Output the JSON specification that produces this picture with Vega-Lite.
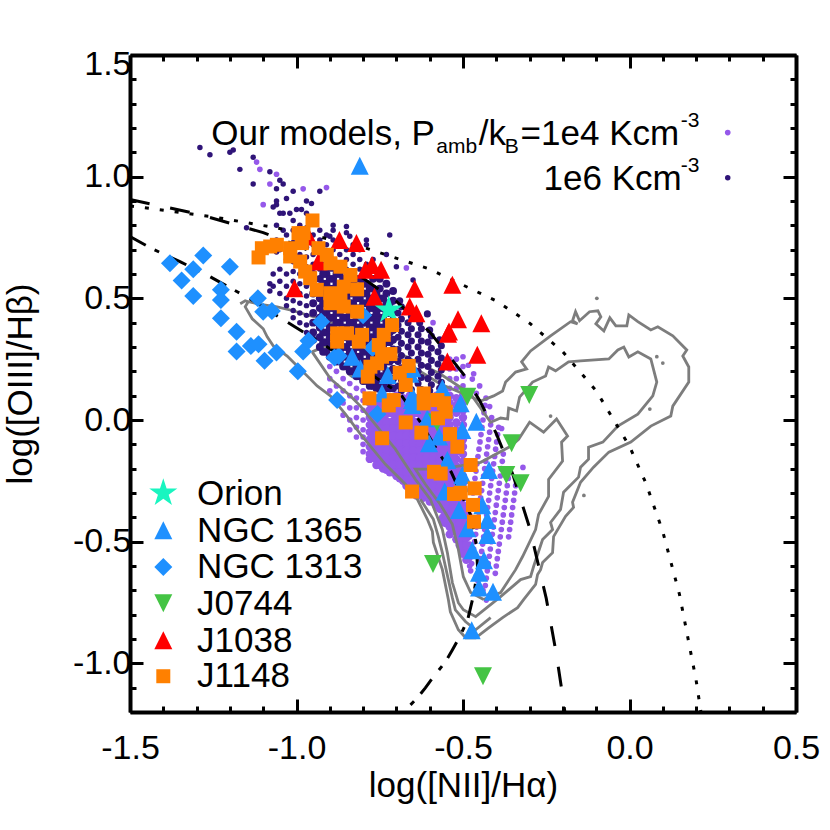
{"$schema":"https://vega.github.io/schema/vega-lite/v6.json","width":666,"height":657,"autosize":{"type":"none"},"padding":{"left":130,"top":55,"right":34,"bottom":118},"background":"white","config":{"view":{"stroke":null},"font":"Liberation Sans"},
"datasets":{
"purple":[
{"x":-1.12,"y":1.06},{"x":-1.11,"y":1.03},{"x":-1.06,"y":1.01},{"x":-1.08,"y":0.97},{"x":-0.98,"y":0.95},{"x":-0.91,"y":0.955},{"x":-1.1,"y":0.885},{"x":-0.67,"y":0.625},{"x":-0.59,"y":0.4},{"x":-0.32,"y":-0.195},{"x":-0.42,"y":0.055},{"x":-0.384,"y":-0.035},{"x":-0.484,"y":0.225},{"x":-0.468,"y":0.19},{"x":-0.472,"y":0.168},{"x":-0.5,"y":0.26},{"x":-0.45,"y":0.14},{"x":-0.46,"y":0.11},
{"x":-0.9,"y":0.22},{"x":-0.9,"y":0.17},{"x":-0.9,"y":0.12},{"x":-0.88,"y":0.2},{"x":-0.88,"y":0.14},{"x":-0.88,"y":0.09},{"x":-0.86,"y":0.17},{"x":-0.86,"y":0.12},{"x":-0.86,"y":0.07},{"x":-0.86,"y":0.02},{"x":-0.84,"y":0.15},{"x":-0.84,"y":0.1},{"x":-0.84,"y":0.05},{"x":-0.84,"y":0.0},{"x":-0.84,"y":-0.04},{"x":-0.82,"y":0.13},{"x":-0.82,"y":0.09},{"x":-0.82,"y":0.05},{"x":-0.82,"y":0.01},{"x":-0.82,"y":-0.03},{"x":-0.82,"y":-0.07},{"x":-0.8,"y":0.12},{"x":-0.8,"y":0.08},{"x":-0.8,"y":0.04},{"x":-0.8,"y":0.0},{"x":-0.8,"y":-0.04},{"x":-0.8,"y":-0.07},{"x":-0.8,"y":-0.1},{"x":-0.8,"y":-0.13},
{"x":-0.78,"y":0.1},{"x":-0.78,"y":0.07},{"x":-0.78,"y":0.04},{"x":-0.78,"y":0.01},{"x":-0.78,"y":-0.02},{"x":-0.78,"y":-0.05},{"x":-0.78,"y":-0.08},{"x":-0.78,"y":-0.11},{"x":-0.78,"y":-0.14},{"x":-0.78,"y":-0.16},
{"x":-0.76,"y":0.09},{"x":-0.76,"y":0.06},{"x":-0.76,"y":0.03},{"x":-0.76,"y":-0.01},{"x":-0.76,"y":-0.04},{"x":-0.76,"y":-0.07},{"x":-0.76,"y":-0.1},{"x":-0.76,"y":-0.13},{"x":-0.76,"y":-0.16},{"x":-0.76,"y":-0.185},
{"x":-0.74,"y":0.1},{"x":-0.74,"y":0.07},{"x":-0.74,"y":0.04},{"x":-0.74,"y":0.01},{"x":-0.74,"y":-0.02},{"x":-0.74,"y":-0.05},{"x":-0.74,"y":-0.08},{"x":-0.74,"y":-0.11},{"x":-0.74,"y":-0.14},{"x":-0.74,"y":-0.17},{"x":-0.74,"y":-0.2},
{"x":-0.72,"y":0.09},{"x":-0.72,"y":0.06},{"x":-0.72,"y":0.03},{"x":-0.72,"y":-0.01},{"x":-0.72,"y":-0.04},{"x":-0.72,"y":-0.07},{"x":-0.72,"y":-0.1},{"x":-0.72,"y":-0.13},{"x":-0.72,"y":-0.16},{"x":-0.72,"y":-0.19},{"x":-0.72,"y":-0.215},
{"x":-0.7,"y":0.1},{"x":-0.7,"y":0.07},{"x":-0.7,"y":0.04},{"x":-0.7,"y":0.01},{"x":-0.7,"y":-0.02},{"x":-0.7,"y":-0.05},{"x":-0.7,"y":-0.08},{"x":-0.7,"y":-0.11},{"x":-0.7,"y":-0.14},{"x":-0.7,"y":-0.17},{"x":-0.7,"y":-0.2},{"x":-0.7,"y":-0.23},
{"x":-0.68,"y":0.09},{"x":-0.68,"y":0.06},{"x":-0.68,"y":0.03},{"x":-0.68,"y":-0.01},{"x":-0.68,"y":-0.04},{"x":-0.68,"y":-0.07},{"x":-0.68,"y":-0.1},{"x":-0.68,"y":-0.13},{"x":-0.68,"y":-0.16},{"x":-0.68,"y":-0.19},{"x":-0.68,"y":-0.22},{"x":-0.68,"y":-0.25},
{"x":-0.66,"y":0.1},{"x":-0.66,"y":0.07},{"x":-0.66,"y":0.04},{"x":-0.66,"y":0.01},{"x":-0.66,"y":-0.02},{"x":-0.66,"y":-0.05},{"x":-0.66,"y":-0.08},{"x":-0.66,"y":-0.11},{"x":-0.66,"y":-0.14},{"x":-0.66,"y":-0.17},{"x":-0.66,"y":-0.2},{"x":-0.66,"y":-0.23},{"x":-0.66,"y":-0.26},{"x":-0.66,"y":-0.285},
{"x":-0.64,"y":0.09},{"x":-0.64,"y":0.06},{"x":-0.64,"y":0.03},{"x":-0.64,"y":-0.01},{"x":-0.64,"y":-0.04},{"x":-0.64,"y":-0.07},{"x":-0.64,"y":-0.1},{"x":-0.64,"y":-0.13},{"x":-0.64,"y":-0.16},{"x":-0.64,"y":-0.19},{"x":-0.64,"y":-0.22},{"x":-0.64,"y":-0.25},{"x":-0.64,"y":-0.28},{"x":-0.64,"y":-0.31},
{"x":-0.62,"y":0.1},{"x":-0.62,"y":0.07},{"x":-0.62,"y":0.04},{"x":-0.62,"y":0.01},{"x":-0.62,"y":-0.02},{"x":-0.62,"y":-0.05},{"x":-0.62,"y":-0.08},{"x":-0.62,"y":-0.11},{"x":-0.62,"y":-0.14},{"x":-0.62,"y":-0.17},{"x":-0.62,"y":-0.2},{"x":-0.62,"y":-0.23},{"x":-0.62,"y":-0.26},{"x":-0.62,"y":-0.29},{"x":-0.62,"y":-0.32},
{"x":-0.6,"y":0.09},{"x":-0.6,"y":0.06},{"x":-0.6,"y":0.03},{"x":-0.6,"y":-0.01},{"x":-0.6,"y":-0.04},{"x":-0.6,"y":-0.07},{"x":-0.6,"y":-0.1},{"x":-0.6,"y":-0.13},{"x":-0.6,"y":-0.16},{"x":-0.6,"y":-0.19},{"x":-0.6,"y":-0.22},{"x":-0.6,"y":-0.25},{"x":-0.6,"y":-0.28},{"x":-0.6,"y":-0.31},{"x":-0.6,"y":-0.335},
{"x":-0.58,"y":0.1},{"x":-0.58,"y":0.07},{"x":-0.58,"y":0.04},{"x":-0.58,"y":0.01},{"x":-0.58,"y":-0.02},{"x":-0.58,"y":-0.05},{"x":-0.58,"y":-0.08},{"x":-0.58,"y":-0.11},{"x":-0.58,"y":-0.14},{"x":-0.58,"y":-0.17},{"x":-0.58,"y":-0.2},{"x":-0.58,"y":-0.23},{"x":-0.58,"y":-0.26},{"x":-0.58,"y":-0.29},{"x":-0.58,"y":-0.32},{"x":-0.58,"y":-0.35},
{"x":-0.56,"y":0.09},{"x":-0.56,"y":0.06},{"x":-0.56,"y":0.03},{"x":-0.56,"y":-0.01},{"x":-0.56,"y":-0.04},{"x":-0.56,"y":-0.07},{"x":-0.56,"y":-0.1},{"x":-0.56,"y":-0.13},{"x":-0.56,"y":-0.16},{"x":-0.56,"y":-0.19},{"x":-0.56,"y":-0.22},{"x":-0.56,"y":-0.25},{"x":-0.56,"y":-0.28},{"x":-0.56,"y":-0.31},{"x":-0.56,"y":-0.34},{"x":-0.56,"y":-0.37},{"x":-0.56,"y":-0.4},{"x":-0.56,"y":-0.42},
{"x":-0.54,"y":0.25},{"x":-0.54,"y":0.21},{"x":-0.54,"y":0.17},{"x":-0.54,"y":0.13},{"x":-0.54,"y":0.1},{"x":-0.54,"y":0.07},{"x":-0.54,"y":0.04},{"x":-0.54,"y":0.01},{"x":-0.54,"y":-0.02},{"x":-0.54,"y":-0.05},{"x":-0.54,"y":-0.08},{"x":-0.54,"y":-0.11},{"x":-0.54,"y":-0.14},{"x":-0.54,"y":-0.17},{"x":-0.54,"y":-0.2},{"x":-0.54,"y":-0.23},{"x":-0.54,"y":-0.26},{"x":-0.54,"y":-0.29},{"x":-0.54,"y":-0.32},{"x":-0.54,"y":-0.35},{"x":-0.54,"y":-0.38},{"x":-0.54,"y":-0.41},{"x":-0.54,"y":-0.44},{"x":-0.54,"y":-0.47},
{"x":-0.52,"y":0.25},{"x":-0.52,"y":0.21},{"x":-0.52,"y":0.17},{"x":-0.52,"y":0.13},{"x":-0.52,"y":0.09},{"x":-0.52,"y":0.06},{"x":-0.52,"y":0.03},{"x":-0.52,"y":-0.01},{"x":-0.52,"y":-0.04},{"x":-0.52,"y":-0.07},{"x":-0.52,"y":-0.1},{"x":-0.52,"y":-0.13},{"x":-0.52,"y":-0.16},{"x":-0.52,"y":-0.19},{"x":-0.52,"y":-0.22},{"x":-0.52,"y":-0.25},{"x":-0.52,"y":-0.28},{"x":-0.52,"y":-0.31},{"x":-0.52,"y":-0.34},{"x":-0.52,"y":-0.37},{"x":-0.52,"y":-0.4},{"x":-0.52,"y":-0.43},{"x":-0.52,"y":-0.46},{"x":-0.52,"y":-0.49},
{"x":-0.5,"y":0.22},{"x":-0.5,"y":0.18},{"x":-0.5,"y":0.14},{"x":-0.5,"y":0.1},{"x":-0.5,"y":0.07},{"x":-0.5,"y":0.04},{"x":-0.5,"y":0.01},{"x":-0.5,"y":-0.02},{"x":-0.5,"y":-0.05},{"x":-0.5,"y":-0.08},{"x":-0.5,"y":-0.11},{"x":-0.5,"y":-0.14},{"x":-0.5,"y":-0.17},{"x":-0.5,"y":-0.2},{"x":-0.5,"y":-0.23},{"x":-0.5,"y":-0.26},{"x":-0.5,"y":-0.29},{"x":-0.5,"y":-0.32},{"x":-0.5,"y":-0.35},{"x":-0.5,"y":-0.38},{"x":-0.5,"y":-0.41},{"x":-0.5,"y":-0.44},{"x":-0.5,"y":-0.47},{"x":-0.5,"y":-0.5},{"x":-0.5,"y":-0.53},{"x":-0.5,"y":-0.55},
{"x":-0.77,"y":0.085},{"x":-0.77,"y":0.055},{"x":-0.77,"y":0.025},{"x":-0.77,"y":-0.005},{"x":-0.77,"y":-0.035},{"x":-0.77,"y":-0.065},{"x":-0.77,"y":-0.095},{"x":-0.77,"y":-0.125},{"x":-0.77,"y":-0.155},
{"x":-0.75,"y":0.085},{"x":-0.75,"y":0.055},{"x":-0.75,"y":0.025},{"x":-0.75,"y":-0.005},{"x":-0.75,"y":-0.035},{"x":-0.75,"y":-0.065},{"x":-0.75,"y":-0.095},{"x":-0.75,"y":-0.125},{"x":-0.75,"y":-0.155},{"x":-0.75,"y":-0.185},
{"x":-0.73,"y":0.085},{"x":-0.73,"y":0.055},{"x":-0.73,"y":0.025},{"x":-0.73,"y":-0.005},{"x":-0.73,"y":-0.035},{"x":-0.73,"y":-0.065},{"x":-0.73,"y":-0.095},{"x":-0.73,"y":-0.125},{"x":-0.73,"y":-0.155},{"x":-0.73,"y":-0.185},{"x":-0.73,"y":-0.205},
{"x":-0.71,"y":0.085},{"x":-0.71,"y":0.055},{"x":-0.71,"y":0.025},{"x":-0.71,"y":-0.005},{"x":-0.71,"y":-0.035},{"x":-0.71,"y":-0.065},{"x":-0.71,"y":-0.095},{"x":-0.71,"y":-0.125},{"x":-0.71,"y":-0.155},{"x":-0.71,"y":-0.185},{"x":-0.71,"y":-0.215},
{"x":-0.69,"y":0.085},{"x":-0.69,"y":0.055},{"x":-0.69,"y":0.025},{"x":-0.69,"y":-0.005},{"x":-0.69,"y":-0.035},{"x":-0.69,"y":-0.065},{"x":-0.69,"y":-0.095},{"x":-0.69,"y":-0.125},{"x":-0.69,"y":-0.155},{"x":-0.69,"y":-0.185},{"x":-0.69,"y":-0.215},{"x":-0.69,"y":-0.24},
{"x":-0.67,"y":0.085},{"x":-0.67,"y":0.055},{"x":-0.67,"y":0.025},{"x":-0.67,"y":-0.005},{"x":-0.67,"y":-0.035},{"x":-0.67,"y":-0.065},{"x":-0.67,"y":-0.095},{"x":-0.67,"y":-0.125},{"x":-0.67,"y":-0.155},{"x":-0.67,"y":-0.185},{"x":-0.67,"y":-0.215},{"x":-0.67,"y":-0.245},{"x":-0.67,"y":-0.27},
{"x":-0.65,"y":0.085},{"x":-0.65,"y":0.055},{"x":-0.65,"y":0.025},{"x":-0.65,"y":-0.005},{"x":-0.65,"y":-0.035},{"x":-0.65,"y":-0.065},{"x":-0.65,"y":-0.095},{"x":-0.65,"y":-0.125},{"x":-0.65,"y":-0.155},{"x":-0.65,"y":-0.185},{"x":-0.65,"y":-0.215},{"x":-0.65,"y":-0.245},{"x":-0.65,"y":-0.275},
{"x":-0.63,"y":0.085},{"x":-0.63,"y":0.055},{"x":-0.63,"y":0.025},{"x":-0.63,"y":-0.005},{"x":-0.63,"y":-0.035},{"x":-0.63,"y":-0.065},{"x":-0.63,"y":-0.095},{"x":-0.63,"y":-0.125},{"x":-0.63,"y":-0.155},{"x":-0.63,"y":-0.185},{"x":-0.63,"y":-0.215},{"x":-0.63,"y":-0.245},{"x":-0.63,"y":-0.275},{"x":-0.63,"y":-0.305},
{"x":-0.61,"y":0.085},{"x":-0.61,"y":0.055},{"x":-0.61,"y":0.025},{"x":-0.61,"y":-0.005},{"x":-0.61,"y":-0.035},{"x":-0.61,"y":-0.065},{"x":-0.61,"y":-0.095},{"x":-0.61,"y":-0.125},{"x":-0.61,"y":-0.155},{"x":-0.61,"y":-0.185},{"x":-0.61,"y":-0.215},{"x":-0.61,"y":-0.245},{"x":-0.61,"y":-0.275},{"x":-0.61,"y":-0.305},
{"x":-0.59,"y":0.085},{"x":-0.59,"y":0.055},{"x":-0.59,"y":0.025},{"x":-0.59,"y":-0.005},{"x":-0.59,"y":-0.035},{"x":-0.59,"y":-0.065},{"x":-0.59,"y":-0.095},{"x":-0.59,"y":-0.125},{"x":-0.59,"y":-0.155},{"x":-0.59,"y":-0.185},{"x":-0.59,"y":-0.215},{"x":-0.59,"y":-0.245},{"x":-0.59,"y":-0.275},{"x":-0.59,"y":-0.305},{"x":-0.59,"y":-0.335},
{"x":-0.57,"y":0.085},{"x":-0.57,"y":0.055},{"x":-0.57,"y":0.025},{"x":-0.57,"y":-0.005},{"x":-0.57,"y":-0.035},{"x":-0.57,"y":-0.065},{"x":-0.57,"y":-0.095},{"x":-0.57,"y":-0.125},{"x":-0.57,"y":-0.155},{"x":-0.57,"y":-0.185},{"x":-0.57,"y":-0.215},{"x":-0.57,"y":-0.245},{"x":-0.57,"y":-0.275},{"x":-0.57,"y":-0.305},{"x":-0.57,"y":-0.335},{"x":-0.57,"y":-0.365},
{"x":-0.55,"y":0.085},{"x":-0.55,"y":0.055},{"x":-0.55,"y":0.025},{"x":-0.55,"y":-0.005},{"x":-0.55,"y":-0.035},{"x":-0.55,"y":-0.065},{"x":-0.55,"y":-0.095},{"x":-0.55,"y":-0.125},{"x":-0.55,"y":-0.155},{"x":-0.55,"y":-0.185},{"x":-0.55,"y":-0.215},{"x":-0.55,"y":-0.245},{"x":-0.55,"y":-0.275},{"x":-0.55,"y":-0.305},{"x":-0.55,"y":-0.335},{"x":-0.55,"y":-0.365},{"x":-0.55,"y":-0.395},{"x":-0.55,"y":-0.425},
{"x":-0.53,"y":-0.125},{"x":-0.53,"y":-0.155},{"x":-0.53,"y":-0.185},{"x":-0.53,"y":-0.215},{"x":-0.53,"y":-0.245},{"x":-0.53,"y":-0.275},{"x":-0.53,"y":-0.305},{"x":-0.53,"y":-0.335},{"x":-0.53,"y":-0.365},{"x":-0.53,"y":-0.395},{"x":-0.53,"y":-0.425},{"x":-0.53,"y":-0.455},
{"x":-0.51,"y":-0.215},{"x":-0.51,"y":-0.245},{"x":-0.51,"y":-0.275},{"x":-0.51,"y":-0.305},{"x":-0.51,"y":-0.335},{"x":-0.51,"y":-0.365},{"x":-0.51,"y":-0.395},{"x":-0.51,"y":-0.425},{"x":-0.51,"y":-0.455},{"x":-0.51,"y":-0.485},{"x":-0.51,"y":-0.515},
{"x":-0.49,"y":-0.365},{"x":-0.49,"y":-0.395},{"x":-0.49,"y":-0.425},{"x":-0.49,"y":-0.455},{"x":-0.49,"y":-0.485},{"x":-0.49,"y":-0.515},{"x":-0.49,"y":-0.545},{"x":-0.49,"y":-0.575},
{"x":-0.47,"y":-0.3},{"x":-0.467,"y":-0.27},{"x":-0.464,"y":-0.24},{"x":-0.461,"y":-0.21},{"x":-0.458,"y":-0.18},{"x":-0.455,"y":-0.15},{"x":-0.452,"y":-0.12},{"x":-0.449,"y":-0.09},{"x":-0.446,"y":-0.06},{"x":-0.443,"y":-0.03},{"x":-0.44,"y":0.0},{"x":-0.437,"y":0.03},{"x":-0.434,"y":0.06},{"x":-0.431,"y":0.09},
{"x":-0.477,"y":-0.62},{"x":-0.474,"y":-0.59},{"x":-0.471,"y":-0.56},{"x":-0.468,"y":-0.53},{"x":-0.465,"y":-0.5},{"x":-0.462,"y":-0.47},{"x":-0.459,"y":-0.44},{"x":-0.456,"y":-0.41},{"x":-0.453,"y":-0.38},{"x":-0.45,"y":-0.35},{"x":-0.447,"y":-0.32},{"x":-0.444,"y":-0.29},{"x":-0.441,"y":-0.26},{"x":-0.438,"y":-0.23},{"x":-0.435,"y":-0.2},{"x":-0.432,"y":-0.17},{"x":-0.429,"y":-0.14},{"x":-0.426,"y":-0.11},{"x":-0.423,"y":-0.08},{"x":-0.42,"y":-0.05},{"x":-0.417,"y":-0.02},{"x":-0.414,"y":0.01},
{"x":-0.456,"y":-0.66},{"x":-0.453,"y":-0.63},{"x":-0.45,"y":-0.6},{"x":-0.447,"y":-0.57},{"x":-0.444,"y":-0.54},{"x":-0.441,"y":-0.51},{"x":-0.438,"y":-0.48},{"x":-0.435,"y":-0.45},{"x":-0.432,"y":-0.42},{"x":-0.429,"y":-0.39},{"x":-0.426,"y":-0.36},{"x":-0.423,"y":-0.33},{"x":-0.42,"y":-0.3},{"x":-0.417,"y":-0.27},{"x":-0.414,"y":-0.24},{"x":-0.411,"y":-0.21},{"x":-0.408,"y":-0.18},{"x":-0.405,"y":-0.15},{"x":-0.402,"y":-0.12},{"x":-0.399,"y":-0.09},{"x":-0.396,"y":-0.06},{"x":-0.393,"y":-0.03},
{"x":-0.433,"y":-0.68},{"x":-0.43,"y":-0.65},{"x":-0.427,"y":-0.62},{"x":-0.424,"y":-0.59},{"x":-0.421,"y":-0.56},{"x":-0.418,"y":-0.53},{"x":-0.415,"y":-0.5},{"x":-0.412,"y":-0.47},{"x":-0.409,"y":-0.44},{"x":-0.406,"y":-0.41},{"x":-0.403,"y":-0.38},{"x":-0.4,"y":-0.35},{"x":-0.397,"y":-0.32},{"x":-0.394,"y":-0.29},{"x":-0.391,"y":-0.26},{"x":-0.388,"y":-0.23},{"x":-0.385,"y":-0.2},{"x":-0.382,"y":-0.17},{"x":-0.379,"y":-0.14},
{"x":-0.403,"y":-0.63},{"x":-0.4,"y":-0.6},{"x":-0.397,"y":-0.57},{"x":-0.394,"y":-0.54},{"x":-0.391,"y":-0.51},{"x":-0.388,"y":-0.48},{"x":-0.385,"y":-0.45},{"x":-0.382,"y":-0.42},{"x":-0.379,"y":-0.39},{"x":-0.376,"y":-0.36},{"x":-0.373,"y":-0.33},{"x":-0.37,"y":-0.3},{"x":-0.367,"y":-0.27},{"x":-0.364,"y":-0.24},{"x":-0.361,"y":-0.21},
{"x":-0.363,"y":-0.48},{"x":-0.36,"y":-0.45},{"x":-0.357,"y":-0.42},{"x":-0.354,"y":-0.39},{"x":-0.351,"y":-0.36},{"x":-0.348,"y":-0.33},{"x":-0.345,"y":-0.3},{"x":-0.342,"y":-0.27},{"x":-0.339,"y":-0.24},
{"x":-0.48,"y":-0.6},{"x":-0.48,"y":-0.57},{"x":-0.48,"y":-0.54},{"x":-0.48,"y":-0.51},{"x":-0.48,"y":-0.48},{"x":-0.48,"y":-0.45},{"x":-0.48,"y":-0.42},{"x":-0.48,"y":-0.39},{"x":-0.48,"y":-0.36},{"x":-0.46,"y":-0.64},{"x":-0.44,"y":-0.7},{"x":-0.42,"y":-0.72},{"x":-0.43,"y":-0.74},
{"x":0.295,"y":1.181}],
"dark":[
{"x":-1.29,"y":1.12},{"x":-1.26,"y":1.09},{"x":-1.2,"y":1.1},{"x":-1.19,"y":1.11},{"x":-1.13,"y":1.08},{"x":-1.17,"y":1.03},{"x":-1.13,"y":0.97},{"x":-1.08,"y":1.02},{"x":-1.05,"y":0.985},{"x":-1.04,"y":0.97},{"x":-1.06,"y":0.95},{"x":-1.01,"y":0.94},{"x":-0.93,"y":0.94},{"x":-1.03,"y":0.91},{"x":-0.97,"y":0.9},{"x":-0.955,"y":0.89},{"x":-1.06,"y":0.9},{"x":-1.06,"y":0.885},{"x":-1.07,"y":0.875},{"x":-1.05,"y":0.85},{"x":-1.04,"y":0.85},{"x":-1.02,"y":0.85},{"x":-1.0,"y":0.865},{"x":-0.985,"y":0.865},{"x":-0.97,"y":0.85},{"x":-1.01,"y":0.82},{"x":-1.15,"y":0.79},{"x":-1.06,"y":0.8},{"x":-1.04,"y":0.78},{"x":-0.89,"y":0.8},{"x":-0.85,"y":0.795},{"x":-0.72,"y":0.76},{"x":-0.79,"y":0.74},{"x":-0.84,"y":0.755},{"x":-0.9,"y":0.755},{"x":-0.73,"y":0.68},{"x":-0.7,"y":0.63},
{"x":-1.08,"y":0.56},{"x":-1.08,"y":0.53},{"x":-1.07,"y":0.6},{"x":-1.07,"y":0.55},{"x":-1.06,"y":0.74},{"x":-1.06,"y":0.69},{"x":-1.05,"y":0.7},{"x":-1.05,"y":0.62},{"x":-1.05,"y":0.57},{"x":-1.05,"y":0.52},
{"x":-1.03,"y":0.76},{"x":-1.03,"y":0.71},{"x":-1.03,"y":0.66},{"x":-1.03,"y":0.6},{"x":-1.03,"y":0.55},{"x":-1.03,"y":0.5},{"x":-1.03,"y":0.47},
{"x":-1.01,"y":0.78},{"x":-1.01,"y":0.73},{"x":-1.01,"y":0.69},{"x":-1.01,"y":0.65},{"x":-1.01,"y":0.61},{"x":-1.01,"y":0.57},{"x":-1.01,"y":0.53},{"x":-1.01,"y":0.49},{"x":-1.01,"y":0.45},{"x":-1.01,"y":0.42},
{"x":-0.99,"y":0.8},{"x":-0.99,"y":0.76},{"x":-0.99,"y":0.72},{"x":-0.99,"y":0.68},{"x":-0.99,"y":0.64},{"x":-0.99,"y":0.6},{"x":-0.99,"y":0.56},{"x":-0.99,"y":0.52},{"x":-0.99,"y":0.48},{"x":-0.99,"y":0.44},{"x":-0.99,"y":0.4},
{"x":-0.97,"y":0.79},{"x":-0.97,"y":0.75},{"x":-0.97,"y":0.71},{"x":-0.97,"y":0.67},{"x":-0.97,"y":0.63},{"x":-0.97,"y":0.59},{"x":-0.97,"y":0.55},{"x":-0.97,"y":0.51},{"x":-0.97,"y":0.47},{"x":-0.97,"y":0.43},{"x":-0.97,"y":0.39},{"x":-0.97,"y":0.36},
{"x":-0.95,"y":0.76},{"x":-0.95,"y":0.72},{"x":-0.95,"y":0.68},{"x":-0.95,"y":0.64},{"x":-0.95,"y":0.6},{"x":-0.95,"y":0.56},{"x":-0.95,"y":0.52},{"x":-0.95,"y":0.48},{"x":-0.95,"y":0.44},{"x":-0.95,"y":0.4},{"x":-0.95,"y":0.36},{"x":-0.95,"y":0.33},
{"x":-0.93,"y":0.78},{"x":-0.93,"y":0.74},{"x":-0.93,"y":0.7},{"x":-0.93,"y":0.66},{"x":-0.93,"y":0.62},{"x":-0.93,"y":0.58},{"x":-0.93,"y":0.54},{"x":-0.93,"y":0.5},{"x":-0.93,"y":0.46},{"x":-0.93,"y":0.42},{"x":-0.93,"y":0.38},{"x":-0.93,"y":0.34},{"x":-0.93,"y":0.3},
{"x":-0.91,"y":0.76},{"x":-0.91,"y":0.72},{"x":-0.91,"y":0.68},{"x":-0.91,"y":0.64},{"x":-0.91,"y":0.6},{"x":-0.91,"y":0.56},{"x":-0.91,"y":0.52},{"x":-0.91,"y":0.48},{"x":-0.91,"y":0.44},{"x":-0.91,"y":0.4},{"x":-0.91,"y":0.36},{"x":-0.91,"y":0.32},{"x":-0.91,"y":0.28},
{"x":-0.89,"y":0.78},{"x":-0.89,"y":0.74},{"x":-0.89,"y":0.7},{"x":-0.89,"y":0.66},{"x":-0.89,"y":0.62},{"x":-0.89,"y":0.58},{"x":-0.89,"y":0.54},{"x":-0.89,"y":0.5},{"x":-0.89,"y":0.46},{"x":-0.89,"y":0.42},{"x":-0.89,"y":0.38},{"x":-0.89,"y":0.34},{"x":-0.89,"y":0.3},{"x":-0.89,"y":0.26},
{"x":-0.87,"y":0.72},{"x":-0.87,"y":0.68},{"x":-0.87,"y":0.64},{"x":-0.87,"y":0.6},{"x":-0.87,"y":0.56},{"x":-0.87,"y":0.52},{"x":-0.87,"y":0.48},{"x":-0.87,"y":0.44},{"x":-0.87,"y":0.4},{"x":-0.87,"y":0.36},{"x":-0.87,"y":0.32},{"x":-0.87,"y":0.28},{"x":-0.87,"y":0.24},
{"x":-0.85,"y":0.77},{"x":-0.85,"y":0.7},{"x":-0.85,"y":0.66},{"x":-0.85,"y":0.62},{"x":-0.85,"y":0.58},{"x":-0.85,"y":0.54},{"x":-0.85,"y":0.5},{"x":-0.85,"y":0.46},{"x":-0.85,"y":0.42},{"x":-0.85,"y":0.38},{"x":-0.85,"y":0.34},{"x":-0.85,"y":0.3},{"x":-0.85,"y":0.26},{"x":-0.85,"y":0.22},
{"x":-0.83,"y":0.72},{"x":-0.83,"y":0.68},{"x":-0.83,"y":0.64},{"x":-0.83,"y":0.6},{"x":-0.83,"y":0.56},{"x":-0.83,"y":0.52},{"x":-0.83,"y":0.48},{"x":-0.83,"y":0.44},{"x":-0.83,"y":0.4},{"x":-0.83,"y":0.36},{"x":-0.83,"y":0.32},{"x":-0.83,"y":0.28},{"x":-0.83,"y":0.24},{"x":-0.83,"y":0.2},
{"x":-0.81,"y":0.7},{"x":-0.81,"y":0.66},{"x":-0.81,"y":0.62},{"x":-0.81,"y":0.58},{"x":-0.81,"y":0.54},{"x":-0.81,"y":0.5},{"x":-0.81,"y":0.46},{"x":-0.81,"y":0.42},{"x":-0.81,"y":0.38},{"x":-0.81,"y":0.34},{"x":-0.81,"y":0.3},{"x":-0.81,"y":0.26},{"x":-0.81,"y":0.22},{"x":-0.81,"y":0.18},
{"x":-0.79,"y":0.72},{"x":-0.79,"y":0.64},{"x":-0.79,"y":0.6},{"x":-0.79,"y":0.56},{"x":-0.79,"y":0.52},{"x":-0.79,"y":0.48},{"x":-0.79,"y":0.44},{"x":-0.79,"y":0.4},{"x":-0.79,"y":0.36},{"x":-0.79,"y":0.32},{"x":-0.79,"y":0.28},{"x":-0.79,"y":0.24},{"x":-0.79,"y":0.2},{"x":-0.79,"y":0.16},
{"x":-0.77,"y":0.66},{"x":-0.77,"y":0.62},{"x":-0.77,"y":0.58},{"x":-0.77,"y":0.54},{"x":-0.77,"y":0.5},{"x":-0.77,"y":0.46},{"x":-0.77,"y":0.42},{"x":-0.77,"y":0.38},{"x":-0.77,"y":0.34},{"x":-0.77,"y":0.3},{"x":-0.77,"y":0.26},{"x":-0.77,"y":0.22},{"x":-0.77,"y":0.18},{"x":-0.77,"y":0.14},
{"x":-0.75,"y":0.62},{"x":-0.75,"y":0.58},{"x":-0.75,"y":0.54},{"x":-0.75,"y":0.5},{"x":-0.75,"y":0.46},{"x":-0.75,"y":0.42},{"x":-0.75,"y":0.38},{"x":-0.75,"y":0.34},{"x":-0.75,"y":0.3},{"x":-0.75,"y":0.26},{"x":-0.75,"y":0.22},{"x":-0.75,"y":0.18},{"x":-0.75,"y":0.14},{"x":-0.75,"y":0.12},
{"x":-0.73,"y":0.56},{"x":-0.73,"y":0.52},{"x":-0.73,"y":0.48},{"x":-0.73,"y":0.44},{"x":-0.73,"y":0.4},{"x":-0.73,"y":0.36},{"x":-0.73,"y":0.32},{"x":-0.73,"y":0.28},{"x":-0.73,"y":0.24},{"x":-0.73,"y":0.2},{"x":-0.73,"y":0.16},{"x":-0.73,"y":0.13},
{"x":-0.71,"y":0.53},{"x":-0.71,"y":0.49},{"x":-0.71,"y":0.45},{"x":-0.71,"y":0.41},{"x":-0.71,"y":0.37},{"x":-0.71,"y":0.33},{"x":-0.71,"y":0.29},{"x":-0.71,"y":0.25},{"x":-0.71,"y":0.21},{"x":-0.71,"y":0.17},{"x":-0.71,"y":0.13},
{"x":-0.92,"y":0.68},{"x":-0.92,"y":0.64},{"x":-0.92,"y":0.6},{"x":-0.92,"y":0.56},{"x":-0.92,"y":0.52},{"x":-0.92,"y":0.48},{"x":-0.92,"y":0.44},{"x":-0.92,"y":0.4},{"x":-0.92,"y":0.36},{"x":-0.92,"y":0.32},{"x":-0.92,"y":0.28},
{"x":-0.9,"y":0.66},{"x":-0.9,"y":0.62},{"x":-0.9,"y":0.58},{"x":-0.9,"y":0.54},{"x":-0.9,"y":0.5},{"x":-0.9,"y":0.46},{"x":-0.9,"y":0.42},{"x":-0.9,"y":0.38},{"x":-0.9,"y":0.34},{"x":-0.9,"y":0.3},{"x":-0.9,"y":0.26},
{"x":-0.88,"y":0.64},{"x":-0.88,"y":0.6},{"x":-0.88,"y":0.56},{"x":-0.88,"y":0.52},{"x":-0.88,"y":0.48},{"x":-0.88,"y":0.44},{"x":-0.88,"y":0.4},{"x":-0.88,"y":0.36},{"x":-0.88,"y":0.32},{"x":-0.88,"y":0.28},{"x":-0.88,"y":0.24},
{"x":-0.86,"y":0.62},{"x":-0.86,"y":0.58},{"x":-0.86,"y":0.54},{"x":-0.86,"y":0.5},{"x":-0.86,"y":0.46},{"x":-0.86,"y":0.42},{"x":-0.86,"y":0.38},{"x":-0.86,"y":0.34},{"x":-0.86,"y":0.3},{"x":-0.86,"y":0.26},{"x":-0.86,"y":0.22},
{"x":-0.84,"y":0.6},{"x":-0.84,"y":0.56},{"x":-0.84,"y":0.52},{"x":-0.84,"y":0.48},{"x":-0.84,"y":0.44},{"x":-0.84,"y":0.4},{"x":-0.84,"y":0.36},{"x":-0.84,"y":0.32},{"x":-0.84,"y":0.28},{"x":-0.84,"y":0.24},{"x":-0.84,"y":0.2},
{"x":-0.82,"y":0.58},{"x":-0.82,"y":0.54},{"x":-0.82,"y":0.5},{"x":-0.82,"y":0.46},{"x":-0.82,"y":0.42},{"x":-0.82,"y":0.38},{"x":-0.82,"y":0.34},{"x":-0.82,"y":0.3},{"x":-0.82,"y":0.26},{"x":-0.82,"y":0.22},{"x":-0.82,"y":0.18},
{"x":-0.8,"y":0.56},{"x":-0.8,"y":0.52},{"x":-0.8,"y":0.48},{"x":-0.8,"y":0.44},{"x":-0.8,"y":0.4},{"x":-0.8,"y":0.36},{"x":-0.8,"y":0.32},{"x":-0.8,"y":0.28},{"x":-0.8,"y":0.24},{"x":-0.8,"y":0.2},{"x":-0.8,"y":0.16},
{"x":-0.78,"y":0.54},{"x":-0.78,"y":0.5},{"x":-0.78,"y":0.46},{"x":-0.78,"y":0.42},{"x":-0.78,"y":0.38},{"x":-0.78,"y":0.34},{"x":-0.78,"y":0.3},{"x":-0.78,"y":0.26},{"x":-0.78,"y":0.22},{"x":-0.78,"y":0.18},{"x":-0.78,"y":0.14},
{"x":-0.76,"y":0.52},{"x":-0.76,"y":0.48},{"x":-0.76,"y":0.44},{"x":-0.76,"y":0.4},{"x":-0.76,"y":0.36},{"x":-0.76,"y":0.32},{"x":-0.76,"y":0.28},{"x":-0.76,"y":0.24},{"x":-0.76,"y":0.2},{"x":-0.76,"y":0.16},{"x":-0.76,"y":0.13},
{"x":-0.74,"y":0.5},{"x":-0.74,"y":0.46},{"x":-0.74,"y":0.42},{"x":-0.74,"y":0.38},{"x":-0.74,"y":0.34},{"x":-0.74,"y":0.3},{"x":-0.74,"y":0.26},{"x":-0.74,"y":0.22},{"x":-0.74,"y":0.18},{"x":-0.74,"y":0.14},
{"x":-0.72,"y":0.48},{"x":-0.72,"y":0.44},{"x":-0.72,"y":0.4},{"x":-0.72,"y":0.36},{"x":-0.72,"y":0.32},{"x":-0.72,"y":0.28},{"x":-0.72,"y":0.24},{"x":-0.72,"y":0.2},{"x":-0.72,"y":0.16},{"x":-0.72,"y":0.13},
{"x":-0.69,"y":0.49},{"x":-0.685,"y":0.465},{"x":-0.695,"y":0.44},{"x":-0.685,"y":0.415},{"x":-0.695,"y":0.39},{"x":-0.685,"y":0.365},{"x":-0.695,"y":0.34},{"x":-0.685,"y":0.315},{"x":-0.695,"y":0.29},{"x":-0.685,"y":0.265},{"x":-0.695,"y":0.24},{"x":-0.685,"y":0.215},{"x":-0.695,"y":0.19},{"x":-0.685,"y":0.165},{"x":-0.695,"y":0.14},{"x":-0.685,"y":0.12},
{"x":-0.65,"y":0.575},{"x":-0.66,"y":0.45},{"x":-0.655,"y":0.425},{"x":-0.665,"y":0.4},{"x":-0.655,"y":0.375},{"x":-0.665,"y":0.35},{"x":-0.655,"y":0.325},{"x":-0.665,"y":0.3},{"x":-0.655,"y":0.275},{"x":-0.665,"y":0.25},{"x":-0.655,"y":0.225},{"x":-0.665,"y":0.2},{"x":-0.655,"y":0.175},{"x":-0.665,"y":0.15},{"x":-0.655,"y":0.125},
{"x":-0.63,"y":0.4},{"x":-0.625,"y":0.375},{"x":-0.635,"y":0.35},{"x":-0.625,"y":0.325},{"x":-0.635,"y":0.3},{"x":-0.625,"y":0.275},{"x":-0.635,"y":0.25},{"x":-0.625,"y":0.225},{"x":-0.635,"y":0.2},{"x":-0.625,"y":0.175},{"x":-0.635,"y":0.15},{"x":-0.625,"y":0.125},
{"x":-0.607,"y":0.436},{"x":-0.6,"y":0.37},{"x":-0.595,"y":0.345},{"x":-0.605,"y":0.32},{"x":-0.595,"y":0.295},{"x":-0.605,"y":0.27},{"x":-0.595,"y":0.245},{"x":-0.605,"y":0.22},{"x":-0.595,"y":0.195},{"x":-0.605,"y":0.17},{"x":-0.595,"y":0.145},{"x":-0.6,"y":0.12},
{"x":-0.57,"y":0.33},{"x":-0.565,"y":0.305},{"x":-0.575,"y":0.28},{"x":-0.565,"y":0.255},{"x":-0.575,"y":0.23},{"x":-0.565,"y":0.205},{"x":-0.575,"y":0.18},{"x":-0.565,"y":0.155},{"x":-0.57,"y":0.13},
{"x":0.295,"y":0.996}],
"contour":[
{"c":"A","x":-1.169,"y":0.478},{"c":"A","x":-1.154,"y":0.49},{"c":"A","x":-1.145,"y":0.486},{"c":"A","x":-1.154,"y":0.465},{"c":"A","x":-1.133,"y":0.416},{"c":"A","x":-1.1,"y":0.375},{"c":"A","x":-1.088,"y":0.342},{"c":"A","x":-1.07,"y":0.305},{"c":"A","x":-1.028,"y":0.263},{"c":"A","x":-0.998,"y":0.222},{"c":"A","x":-0.959,"y":0.169},{"c":"A","x":-0.938,"y":0.14},{"c":"A","x":-0.898,"y":0.099},{"c":"A","x":-0.853,"y":0.024},{"c":"A","x":-0.808,"y":-0.058},{"c":"A","x":-0.733,"y":-0.182},{"c":"A","x":-0.673,"y":-0.264},{"c":"A","x":-0.637,"y":-0.326},{"c":"A","x":-0.607,"y":-0.408},{"c":"A","x":-0.592,"y":-0.458},{"c":"A","x":-0.589,"y":-0.503},{"c":"A","x":-0.562,"y":-0.615},{"c":"A","x":-0.544,"y":-0.738},{"c":"A","x":-0.538,"y":-0.788},{"c":"A","x":-0.514,"y":-0.862},{"c":"A","x":-0.492,"y":-0.895},{"c":"A","x":-0.462,"y":-0.895},{"c":"A","x":-0.423,"y":-0.854},{"c":"A","x":-0.381,"y":-0.812},{"c":"A","x":-0.336,"y":-0.771},{"c":"A","x":-0.318,"y":-0.738},{"c":"A","x":-0.282,"y":-0.676},{"c":"A","x":-0.276,"y":-0.635},{"c":"A","x":-0.267,"y":-0.615},{"c":"A","x":-0.261,"y":-0.586},{"c":"A","x":-0.231,"y":-0.545},{"c":"A","x":-0.228,"y":-0.479},{"c":"A","x":-0.192,"y":-0.396},{"c":"A","x":-0.168,"y":-0.359},{"c":"A","x":-0.171,"y":-0.338},{"c":"A","x":-0.147,"y":-0.256},{"c":"A","x":-0.108,"y":-0.194},{"c":"A","x":-0.062,"y":-0.132},{"c":"A","x":0.004,"y":-0.091},{"c":"A","x":0.064,"y":-0.025},{"c":"A","x":0.124,"y":0.016},{"c":"A","x":0.13,"y":0.057},{"c":"A","x":0.178,"y":0.156},{"c":"A","x":0.178,"y":0.218},{"c":"A","x":0.16,"y":0.263},{"c":"A","x":0.172,"y":0.288},{"c":"A","x":0.13,"y":0.346},{"c":"A","x":0.085,"y":0.383},{"c":"A","x":0.064,"y":0.37},{"c":"A","x":0.025,"y":0.404},{"c":"A","x":-0.002,"y":0.432},{"c":"A","x":-0.008,"y":0.387},{"c":"A","x":-0.041,"y":0.387},{"c":"A","x":-0.059,"y":0.42},{"c":"A","x":-0.077,"y":0.366},{"c":"A","x":-0.101,"y":0.395},{"c":"A","x":-0.086,"y":0.424},{"c":"A","x":-0.095,"y":0.449},{"c":"A","x":-0.12,"y":0.445},{"c":"A","x":-0.15,"y":0.408},{"c":"A","x":-0.162,"y":0.445},{"c":"A","x":-0.171,"y":0.408},{"c":"A","x":-0.156,"y":0.395},{"c":"A","x":-0.177,"y":0.404},{"c":"A","x":-0.237,"y":0.346},{"c":"A","x":-0.297,"y":0.284},{"c":"A","x":-0.324,"y":0.239},{"c":"A","x":-0.309,"y":0.21},{"c":"A","x":-0.342,"y":0.197},{"c":"A","x":-0.372,"y":0.156},{"c":"A","x":-0.381,"y":0.119},{"c":"A","x":-0.408,"y":0.099},{"c":"A","x":-0.447,"y":0.078},{"c":"A","x":-0.568,"y":0.148},{"c":"A","x":-0.688,"y":0.251},{"c":"A","x":-0.838,"y":0.375},{"c":"A","x":-0.929,"y":0.416},{"c":"A","x":-1.01,"y":0.449},{"c":"A","x":-1.058,"y":0.465},{"c":"A","x":-1.103,"y":0.474},{"c":"A","x":-1.145,"y":0.486},
{"c":"B","x":-0.953,"y":0.28},{"c":"B","x":-0.898,"y":0.169},{"c":"B","x":-0.838,"y":0.099},{"c":"B","x":-0.808,"y":0.057},{"c":"B","x":-0.769,"y":-0.009},{"c":"B","x":-0.703,"y":-0.12},{"c":"B","x":-0.643,"y":-0.244},{"c":"B","x":-0.598,"y":-0.326},{"c":"B","x":-0.562,"y":-0.45},{"c":"B","x":-0.547,"y":-0.545},{"c":"B","x":-0.532,"y":-0.668},{"c":"B","x":-0.514,"y":-0.751},{"c":"B","x":-0.499,"y":-0.78},{"c":"B","x":-0.462,"y":-0.808},{"c":"B","x":-0.387,"y":-0.726},{"c":"B","x":-0.327,"y":-0.656},{"c":"B","x":-0.297,"y":-0.644},{"c":"B","x":-0.288,"y":-0.602},{"c":"B","x":-0.261,"y":-0.491},{"c":"B","x":-0.231,"y":-0.45},{"c":"B","x":-0.237,"y":-0.421},{"c":"B","x":-0.207,"y":-0.367},{"c":"B","x":-0.198,"y":-0.297},{"c":"B","x":-0.153,"y":-0.235},{"c":"B","x":-0.147,"y":-0.194},{"c":"B","x":-0.123,"y":-0.161},{"c":"B","x":-0.123,"y":-0.112},{"c":"B","x":-0.08,"y":-0.091},{"c":"B","x":-0.035,"y":-0.025},{"c":"B","x":0.025,"y":0.024},{"c":"B","x":0.07,"y":0.099},{"c":"B","x":0.082,"y":0.156},{"c":"B","x":0.064,"y":0.251},{"c":"B","x":0.025,"y":0.28},{"c":"B","x":-0.002,"y":0.259},{"c":"B","x":-0.017,"y":0.3},{"c":"B","x":-0.035,"y":0.288},{"c":"B","x":-0.062,"y":0.251},{"c":"B","x":-0.147,"y":0.243},{"c":"B","x":-0.183,"y":0.239},{"c":"B","x":-0.222,"y":0.202},{"c":"B","x":-0.243,"y":0.218},{"c":"B","x":-0.252,"y":0.181},{"c":"B","x":-0.291,"y":0.156},{"c":"B","x":-0.33,"y":0.094},{"c":"B","x":-0.339,"y":0.037},{"c":"B","x":-0.363,"y":0.049},{"c":"B","x":-0.366,"y":0.004},{"c":"B","x":-0.387,"y":0.008},{"c":"B","x":-0.417,"y":-0.009},{"c":"B","x":-0.477,"y":0.107},{"c":"B","x":-0.568,"y":0.189},{"c":"B","x":-0.688,"y":0.272},{"c":"B","x":-0.778,"y":0.313},{"c":"B","x":-0.868,"y":0.333},{"c":"B","x":-0.953,"y":0.28},
{"c":"C","x":-0.438,"y":-0.738},{"c":"C","x":-0.387,"y":-0.709},{"c":"C","x":-0.342,"y":-0.615},{"c":"C","x":-0.321,"y":-0.561},{"c":"C","x":-0.282,"y":-0.45},{"c":"C","x":-0.273,"y":-0.388},{"c":"C","x":-0.243,"y":-0.314},{"c":"C","x":-0.243,"y":-0.244},{"c":"C","x":-0.201,"y":-0.169},{"c":"C","x":-0.204,"y":-0.091},{"c":"C","x":-0.186,"y":-0.066},{"c":"C","x":-0.219,"y":0.004},{"c":"C","x":-0.258,"y":-0.05},{"c":"C","x":-0.3,"y":-0.009},{"c":"C","x":-0.333,"y":-0.079},{"c":"C","x":-0.357,"y":-0.108},{"c":"C","x":-0.447,"y":-0.174},{"c":"C","x":-0.568,"y":-0.202},{"c":"C","x":-0.643,"y":-0.202},{"c":"C","x":-0.613,"y":-0.264},{"c":"C","x":-0.568,"y":-0.347},{"c":"C","x":-0.532,"y":-0.429},{"c":"C","x":-0.514,"y":-0.532},{"c":"C","x":-0.499,"y":-0.644},{"c":"C","x":-0.477,"y":-0.709},{"c":"C","x":-0.438,"y":-0.738},
{"c":"D","x":-0.628,"y":-0.326},{"c":"D","x":-0.589,"y":-0.408},{"c":"D","x":-0.574,"y":-0.479},{"c":"D","x":-0.562,"y":-0.545},{"c":"D","x":-0.532,"y":-0.73},{"c":"D","x":-0.523,"y":-0.78},{"c":"D","x":-0.492,"y":-0.829},{"c":"D","x":-0.462,"y":-0.862},{"c":"D","x":-0.417,"y":-0.812},
{"c":"L","x":-0.847,"y":0.21},{"c":"L","x":-0.829,"y":0.214},{"c":"L","x":-0.817,"y":0.189},{"c":"L","x":-0.832,"y":0.177},{"c":"L","x":-0.844,"y":0.189},{"c":"L","x":-0.847,"y":0.21}],
"specks":[{"x":-0.098,"y":0.5},{"x":0.082,"y":0.26},{"x":0.1,"y":0.234},{"x":-0.237,"y":0.016},{"x":0.061,"y":0.045},{"x":-0.137,"y":-0.31}],
"kauffmann":[{"x":-1.5,"y":0.906},{"x":-1.3,"y":0.848},{"x":-1.1,"y":0.77},{"x":-1.0,"y":0.719},{"x":-0.9,"y":0.658},{"x":-0.8,"y":0.582},{"x":-0.7,"y":0.487},{"x":-0.6,"y":0.362},{"x":-0.5,"y":0.191},{"x":-0.45,"y":0.08},{"x":-0.4,"y":-0.056},{"x":-0.35,"y":-0.225},{"x":-0.3,"y":-0.443},{"x":-0.25,"y":-0.733},{"x":-0.22,"y":-0.959},{"x":-0.2,"y":-1.14},{"x":-0.19,"y":-1.242}],
"kewley":[{"x":-1.5,"y":0.88},{"x":-1.25,"y":0.835},{"x":-1.0,"y":0.775},{"x":-0.8,"y":0.71},{"x":-0.6,"y":0.62},{"x":-0.4,"y":0.489},{"x":-0.3,"y":0.398},{"x":-0.2,"y":0.28},{"x":-0.1,"y":0.12},{"x":0.0,"y":-0.108},{"x":0.05,"y":-0.262},{"x":0.1,"y":-0.459},{"x":0.15,"y":-0.716},{"x":0.2,"y":-1.069},{"x":0.22,"y":-1.25}],
"stasinska":[{"x":-1.5,"y":0.754},{"x":-1.434,"y":0.704},{"x":-1.35,"y":0.651},{"x":-1.26,"y":0.589},{"x":-1.178,"y":0.527},{"x":-1.13,"y":0.49},{"x":-1.01,"y":0.387},{"x":-0.898,"y":0.292},{"x":-0.778,"y":0.189},{"x":-0.688,"y":0.107},{"x":-0.628,"y":-0.009},{"x":-0.574,"y":-0.132},{"x":-0.535,"y":-0.215},{"x":-0.478,"y":-0.388},{"x":-0.46,"y":-0.512},{"x":-0.456,"y":-0.615},{"x":-0.468,"y":-0.718},{"x":-0.486,"y":-0.821},{"x":-0.51,"y":-0.891},{"x":-0.532,"y":-0.945},{"x":-0.553,"y":-0.994},{"x":-0.589,"y":-1.056},{"x":-0.613,"y":-1.101},{"x":-0.637,"y":-1.142},{"x":-0.679,"y":-1.2}],
"ngc1313":[{"x":-1.38,"y":0.644},{"x":-1.28,"y":0.676},{"x":-1.31,"y":0.62},{"x":-1.345,"y":0.573},{"x":-1.31,"y":0.51},{"x":-1.2,"y":0.63},{"x":-1.227,"y":0.535},{"x":-1.227,"y":0.493},{"x":-1.116,"y":0.5},{"x":-1.1,"y":0.445},{"x":-1.074,"y":0.448},{"x":-1.227,"y":0.418},{"x":-1.18,"y":0.363},{"x":-1.18,"y":0.281},{"x":-1.137,"y":0.304},{"x":-1.114,"y":0.311},{"x":-1.096,"y":0.244},{"x":-1.06,"y":0.277},{"x":-0.996,"y":0.2},{"x":-0.98,"y":0.281},{"x":-0.964,"y":0.326},{"x":-0.926,"y":0.404},{"x":-0.878,"y":0.082},{"x":-0.886,"y":0.257},{"x":-0.873,"y":0.263},{"x":-0.757,"y":0.025},{"x":-0.8,"y":0.43},{"x":-0.772,"y":0.296},{"x":-1.4,"y":-0.604}],
"ngc1365":[{"x":-0.81,"y":1.045},{"x":-0.474,"y":-0.864},{"x":-0.41,"y":-0.706},{"x":-0.452,"y":-0.688},{"x":-0.452,"y":-0.628},{"x":-0.437,"y":-0.576},{"x":-0.472,"y":-0.535},{"x":-0.427,"y":-0.473},{"x":-0.487,"y":-0.445},{"x":-0.427,"y":-0.411},{"x":-0.512,"y":-0.37},{"x":-0.442,"y":-0.35},{"x":-0.555,"y":-0.294},{"x":-0.507,"y":-0.26},{"x":-0.422,"y":-0.205},{"x":-0.547,"y":-0.164},{"x":-0.562,"y":0.13},{"x":-0.507,"y":0.069},{"x":-0.46,"y":-0.007},{"x":-0.502,"y":-0.041},{"x":-0.602,"y":-0.096},{"x":-0.652,"y":0.062},{"x":-0.743,"y":0.11},{"x":-0.726,"y":0.185},{"x":-0.652,"y":0.1},{"x":-0.652,"y":0.213},{"x":-0.607,"y":0.007},{"x":-0.572,"y":-0.068},{"x":-0.502,"y":-0.226},{"x":-0.833,"y":0.26},{"x":-0.653,"y":0.082},{"x":-0.658,"y":0.19},{"x":-0.808,"y":0.212},{"x":-1.4,"y":-0.453}],
"j0744":[{"x":-0.487,"y":0.096},{"x":-0.301,"y":0.103},{"x":-0.354,"y":-0.096},{"x":-0.37,"y":-0.226},{"x":-0.327,"y":-0.26},{"x":-0.59,"y":-0.592},{"x":-0.44,"y":-1.053},{"x":-0.578,"y":-0.01},{"x":-1.4,"y":-0.753}],
"j1038":[{"x":-0.871,"y":0.74},{"x":-0.82,"y":0.727},{"x":-1.006,"y":0.541},{"x":-0.964,"y":0.754},{"x":-0.934,"y":0.651},{"x":-0.793,"y":0.617},{"x":-0.773,"y":0.637},{"x":-0.746,"y":0.617},{"x":-0.766,"y":0.507},{"x":-0.645,"y":0.539},{"x":-0.66,"y":0.466},{"x":-0.64,"y":0.439},{"x":-0.532,"y":0.556},{"x":-0.515,"y":0.414},{"x":-0.445,"y":0.398},{"x":-0.542,"y":0.364},{"x":-0.545,"y":0.354},{"x":-0.547,"y":0.24},{"x":-0.457,"y":0.268},{"x":-1.4,"y":-0.905}],
"orion":[{"x":-0.723,"y":0.452},{"x":-1.4,"y":-0.3}],
"j1148":[{"x":-1.114,"y":0.668},{"x":-1.104,"y":0.706},{"x":-1.079,"y":0.713},{"x":-1.059,"y":0.72},{"x":-1.019,"y":0.706},{"x":-0.994,"y":0.768},{"x":-0.979,"y":0.768},{"x":-0.952,"y":0.82},{"x":-1.019,"y":0.672},{"x":-0.984,"y":0.727},{"x":-0.989,"y":0.651},{"x":-0.974,"y":0.61},{"x":-0.959,"y":0.583},{"x":-0.939,"y":0.535},{"x":-0.934,"y":0.706},{"x":-0.909,"y":0.679},{"x":-0.898,"y":0.644},{"x":-0.868,"y":0.63},{"x":-0.838,"y":0.596},{"x":-0.858,"y":0.548},{"x":-0.818,"y":0.537},{"x":-0.898,"y":0.521},{"x":-0.868,"y":0.507},{"x":-0.898,"y":0.48},{"x":-0.858,"y":0.466},{"x":-0.818,"y":0.445},{"x":-0.878,"y":0.356},{"x":-0.848,"y":0.356},{"x":-0.878,"y":0.322},{"x":-0.803,"y":0.35},{"x":-0.813,"y":0.322},{"x":-0.713,"y":0.39},{"x":-0.738,"y":0.35},{"x":-0.753,"y":0.308},{"x":-0.718,"y":0.271},{"x":-0.743,"y":0.26},{"x":-0.778,"y":0.219},{"x":-0.786,"y":0.178},{"x":-0.758,"y":0.233},{"x":-0.69,"y":0.194},{"x":-0.663,"y":0.222},{"x":-0.672,"y":0.144},{"x":-0.781,"y":0.089},{"x":-0.708,"y":0.082},{"x":-0.723,"y":0.06},{"x":-0.618,"y":0.109},{"x":-0.618,"y":0.068},{"x":-0.672,"y":-0.01},{"x":-0.625,"y":-0.052},{"x":-0.743,"y":-0.075},{"x":-0.577,"y":0.082},{"x":-0.557,"y":0.069},{"x":-0.552,"y":0.034},{"x":-0.575,"y":0.007},{"x":-0.539,"y":-0.058},{"x":-0.517,"y":-0.11},{"x":-0.477,"y":-0.185},{"x":-0.587,"y":-0.213},{"x":-0.567,"y":-0.22},{"x":-0.653,"y":-0.294},{"x":-0.527,"y":-0.304},{"x":-0.507,"y":-0.299},{"x":-0.465,"y":-0.281},{"x":-0.47,"y":-0.349},{"x":-0.467,"y":-0.418},{"x":-1.4,"y":-1.053}],
"bigtext":[{"x":-1.256,"y":1.132,"t":"Our models, P"},{"x":-0.453,"y":1.132,"t":"/k"},{"x":-0.327,"y":1.132,"t":"=1e4 Kcm"},{"x":-0.258,"y":0.947,"t":"1e6 Kcm"},{"x":-1.2985,"y":-0.35,"t":"Orion"},{"x":-1.2985,"y":-0.5,"t":"NGC 1365"},{"x":-1.2985,"y":-0.65,"t":"NGC 1313"},{"x":-1.2985,"y":-0.802,"t":"J0744"},{"x":-1.2985,"y":-0.955,"t":"J1038"},{"x":-1.2985,"y":-1.099,"t":"J1148"}],
"smalltext":[{"x":-0.58,"y":1.099,"t":"amb"},{"x":-0.375,"y":1.099,"t":"B"},{"x":0.154,"y":1.206,"t":"-3"},{"x":0.154,"y":1.02,"t":"-3"}]
},
"encoding":{"x":{"field":"x","type":"quantitative","scale":{"domain":[-1.5,0.5],"nice":false,"zero":false},"axis":null},"y":{"field":"y","type":"quantitative","scale":{"domain":[-1.2,1.5],"nice":false,"zero":false},"axis":null}},
"resolve":{"axis":{"x":"independent","y":"independent"}},
"layer":[
{"data":{"name":"purple"},"mark":{"type":"point","filled":true,"size":32,"color":"#9558ea","opacity":1},
"encoding":{"x":{"field":"x","type":"quantitative","scale":{"domain":[-1.5,0.5],"nice":false,"zero":false},
"axis":{"orient":"bottom","values":[-1.5,-1.4,-1.3,-1.2,-1.1,-1.0,-0.9,-0.8,-0.7,-0.6,-0.5,-0.4,-0.3,-0.2,-0.1,0,0.1,0.2,0.3,0.4,0.5],"grid":false,"domainColor":"black","domainWidth":4,"tickColor":"black","tickWidth":3,"tickSize":{"condition":{"test":"abs(datum.value*2-round(datum.value*2))<0.001","value":-13},"value":-6},"labelExpr":"abs(datum.value*2-round(datum.value*2))<0.001 ? replace(format(datum.value,'.1f'),'\u2212','-') : ''","labelFont":"Liberation Sans","labelFontSize":34,"labelColor":"black","labelPadding":32,"labelFlush":false,"labelOverlap":false,"title":"log([NII]/H\u03b1)","titleFont":"Liberation Sans","titleFontSize":35,"titleFontWeight":"normal","titleColor":"black","titlePadding":-4}},
"y":{"field":"y","type":"quantitative","scale":{"domain":[-1.2,1.5],"nice":false,"zero":false},
"axis":{"orient":"left","values":[-1.2,-1.1,-1.0,-0.9,-0.8,-0.7,-0.6,-0.5,-0.4,-0.3,-0.2,-0.1,0,0.1,0.2,0.3,0.4,0.5,0.6,0.7,0.8,0.9,1.0,1.1,1.2,1.3,1.4,1.5],"grid":false,"domainColor":"black","domainWidth":4,"tickColor":"black","tickWidth":3,"tickSize":{"condition":{"test":"abs(datum.value*2-round(datum.value*2))<0.001","value":-13},"value":-6},"labelExpr":"abs(datum.value*2-round(datum.value*2))<0.001 ? replace(format(datum.value,'.1f'),'\u2212','-') : ''","labelFont":"Liberation Sans","labelFontSize":34,"labelColor":"black","labelPadding":12,"labelOverlap":false,"labelFlush":false,"labelOffset":{"condition":{"test":"datum.value>1.45","value":9},"value":0},"title":"log([OIII]/H\u03b2)","titleFont":"Liberation Sans","titleFontSize":35,"titleFontWeight":"normal","titleColor":"black","titlePadding":34}}}},
{"data":{"name":"purple"},"transform":[{"filter":"datum.x>-0.79 && datum.x<-0.485 && datum.y<0.11"}],"mark":{"type":"point","filled":true,"size":70,"color":"#9558ea","opacity":1}},
{"data":{"name":"contour"},"transform":[{"window":[{"op":"row_number","as":"i"}]}],"mark":{"type":"line","color":"#7d7d7d","strokeWidth":2.8,"clip":true},"encoding":{"detail":{"field":"c"},"order":{"field":"i","type":"quantitative"}}},
{"data":{"name":"specks"},"mark":{"type":"point","filled":true,"size":14,"color":"#7d7d7d","opacity":1}},
{"data":{"name":"dark"},"mark":{"type":"point","filled":true,"size":30,"color":"#2f1478","opacity":1},
"encoding":{"x":{"field":"x","type":"quantitative","scale":{"domain":[-1.5,0.5],"nice":false,"zero":false},
"axis":{"orient":"top","values":[-1.5,-1.4,-1.3,-1.2,-1.1,-1.0,-0.9,-0.8,-0.7,-0.6,-0.5,-0.4,-0.3,-0.2,-0.1,0,0.1,0.2,0.3,0.4,0.5],"grid":false,"domainColor":"black","domainWidth":4,"tickColor":"black","tickWidth":3,"tickSize":{"condition":{"test":"abs(datum.value*2-round(datum.value*2))<0.001","value":-13},"value":-6},"labels":false,"title":null}},
"y":{"field":"y","type":"quantitative","scale":{"domain":[-1.2,1.5],"nice":false,"zero":false},
"axis":{"orient":"right","values":[-1.2,-1.1,-1.0,-0.9,-0.8,-0.7,-0.6,-0.5,-0.4,-0.3,-0.2,-0.1,0,0.1,0.2,0.3,0.4,0.5,0.6,0.7,0.8,0.9,1.0,1.1,1.2,1.3,1.4,1.5],"grid":false,"domainColor":"black","domainWidth":4,"tickColor":"black","tickWidth":3,"tickSize":{"condition":{"test":"abs(datum.value*2-round(datum.value*2))<0.001","value":-13},"value":-6},"labels":false,"title":null}}}},
{"data":{"name":"dark"},"transform":[{"filter":"datum.x>-0.96 && datum.x<-0.7 && datum.y<0.62 && datum.y>0.12"}],"mark":{"type":"point","filled":true,"size":62,"color":"#2f1478","opacity":1}},
{"data":{"name":"dark"},"transform":[{"filter":"datum.x>=-0.7 && datum.x<0 && datum.y<0.5 && datum.y>0.11"}],"mark":{"type":"point","filled":true,"size":50,"color":"#2f1478","opacity":1}},
{"data":{"name":"kauffmann"},"mark":{"type":"line","color":"black","strokeWidth":3,"strokeDash":[20,21],"clip":true}},
{"data":{"name":"kewley"},"mark":{"type":"line","color":"black","strokeWidth":3,"strokeDash":[4,11],"clip":true}},
{"data":{"name":"stasinska"},"transform":[{"window":[{"op":"row_number","as":"i"}]}],"mark":{"type":"line","color":"black","strokeWidth":3,"strokeDash":[18,10,5,12],"clip":true},"encoding":{"order":{"field":"i","type":"quantitative"}}},
{"data":{"name":"ngc1313"},"mark":{"type":"point","shape":"diamond","filled":true,"size":324,"color":"#1e90ff","opacity":1}},
{"data":{"name":"ngc1365"},"mark":{"type":"point","shape":"M0,-1L1,1L-1,1Z","filled":true,"size":324,"color":"#1e90ff","opacity":1}},
{"data":{"name":"j0744"},"mark":{"type":"point","shape":"M0,1L1,-1L-1,-1Z","filled":true,"size":324,"color":"#44c444","opacity":1}},
{"data":{"name":"j1038"},"mark":{"type":"point","shape":"M0,-1L1,1L-1,1Z","filled":true,"size":324,"color":"#ff0000","opacity":1}},
{"data":{"name":"orion"},"mark":{"type":"point","shape":"M0,-1L0.224,-0.309L0.951,-0.309L0.363,0.118L0.588,0.809L0,0.382L-0.588,0.809L-0.363,0.118L-0.951,-0.309L-0.224,-0.309Z","filled":true,"size":870,"color":"#19f5c0","opacity":1}},
{"data":{"name":"j1148"},"mark":{"type":"point","shape":"square","filled":true,"size":196,"color":"#ff8000","opacity":1}},
{"data":{"name":"bigtext"},"mark":{"type":"text","align":"left","baseline":"alphabetic","font":"Liberation Sans","fontSize":35,"color":"black"},"encoding":{"text":{"field":"t"}}},
{"data":{"name":"smalltext"},"mark":{"type":"text","align":"left","baseline":"alphabetic","font":"Liberation Sans","fontSize":21,"color":"black"},"encoding":{"text":{"field":"t"}}}
]}
